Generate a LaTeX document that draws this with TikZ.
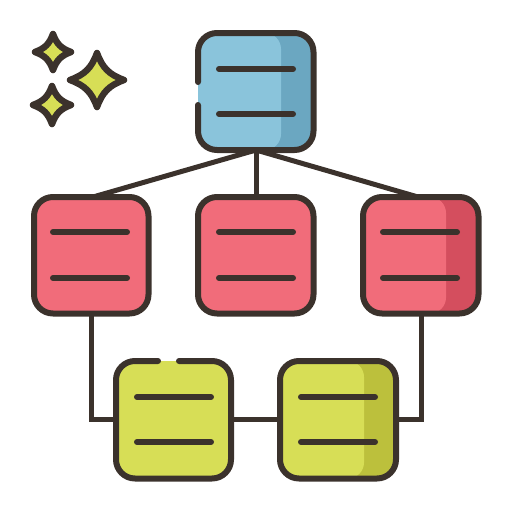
\documentclass[tikz,border=0pt]{standalone}
\definecolor{ol}{HTML}{3B322C}
\definecolor{bluel}{HTML}{8AC4DB}
\definecolor{blued}{HTML}{6BA7C1}
\definecolor{redl}{HTML}{F16C7A}
\definecolor{redd}{HTML}{D44E5E}
\definecolor{grnl}{HTML}{D7DE56}
\definecolor{grnd}{HTML}{BCC03C}
\tikzset{
  outline/.style={line width=6pt, draw=ol, line cap=round, line join=round, rounded corners=19pt},
  conn/.style={line width=5pt, draw=ol, line cap=butt},
  bar/.style={line width=6pt, draw=ol, line cap=round},
  spark/.style={line width=6.5pt, draw=ol, fill=grnl, line join=round}
}
% #1 left #2 top #3 right #4 bottom #5 light #6 dark #7 split x
\newcommand{\boxfill}[7]{%
  \begin{scope}
    \clip[rounded corners=19pt] (#1,#2) rectangle (#3,#4);
    \fill[#6] (#1-5,#2-5) rectangle (#3+5,#4+5);
    \fill[#5, rounded corners=16pt] (#1-30,#2) rectangle (#7,#4);
  \end{scope}}
\newcommand{\bars}[5]{% left x, right x, y1, y2
  \draw[bar] (#1,#3) -- (#2,#3);
  \draw[bar] (#1,#4) -- (#2,#4);}
\newcommand{\sparkle}[3]{%
  \draw[spark] (#1,#2-#3)
    .. controls (#1+0.2*#3,#2-0.45*#3) and (#1+0.45*#3,#2-0.2*#3) .. (#1+#3,#2)
    .. controls (#1+0.45*#3,#2+0.2*#3) and (#1+0.2*#3,#2+0.45*#3) .. (#1,#2+#3)
    .. controls (#1-0.2*#3,#2+0.45*#3) and (#1-0.45*#3,#2+0.2*#3) .. (#1-#3,#2)
    .. controls (#1-0.45*#3,#2-0.2*#3) and (#1-0.2*#3,#2-0.45*#3) .. cycle;}
\begin{document}
\begin{tikzpicture}[x=1pt,y=-1pt]
\useasboundingbox (0,0) rectangle (512,512);
% anchor coordinates
\coordinate (topB) at (256,150);
\coordinate (redLT) at (93,197);
\coordinate (redMT) at (256,197);
\coordinate (redRT) at (418,197);
\coordinate (redLB) at (91,313);
\coordinate (redRB) at (421,313);
\coordinate (cornL) at (91,419);
\coordinate (cornR) at (421,419);
\coordinate (grnLL) at (116,419);
\coordinate (grnLR) at (231,419);
\coordinate (grnRL) at (280,419);
\coordinate (grnRR) at (396,419);
% connectors
\draw[conn] (topB) -- (redMT);
\draw[conn] (topB) -- (redLT);
\draw[conn] (topB) -- (redRT);
\draw[conn] (redLB) -- (cornL) -- (grnLL);
\draw[conn] (redRB) -- (cornR) -- (grnRR);
\draw[conn] (grnLR) -- (grnRL);
% top box
\boxfill{198}{33}{313.5}{150}{bluel}{blued}{281}
\draw[outline] (198,105) -- (198,150) -- (313.5,150) -- (313.5,33) -- (198,33) -- (198,82);
\bars{219}{293}{69}{114}{}
% red boxes
\fill[redl, rounded corners=19pt] (34,197) rectangle (148.5,313.5);
\draw[outline] (34,197) rectangle (148.5,313.5);
\bars{53}{127}{232}{278}{}
\fill[redl, rounded corners=19pt] (198,197) rectangle (313.5,313.5);
\draw[outline] (198,197) rectangle (313.5,313.5);
\bars{219}{293}{232}{278}{}
\boxfill{363}{197}{478.5}{313.5}{redl}{redd}{446}
\draw[outline] (363,197) rectangle (478.5,313.5);
\bars{383}{457}{232}{278}{}
% green boxes
\fill[grnl, rounded corners=19pt] (116,361) rectangle (231,478.5);
\draw[outline] (179,361) -- (231,361) -- (231,478.5) -- (116,478.5) -- (116,361) -- (158,361);
\bars{137}{211}{397}{442}{}
\boxfill{280}{361}{396}{478.5}{grnl}{grnd}{364}
\draw[outline] (280,361) rectangle (396,478.5);
\bars{301}{375}{397}{442}{}
% sparkles
\sparkle{53}{52}{18}
\sparkle{97}{80}{27}
\sparkle{52}{105}{19}
\end{tikzpicture}
\end{document}
